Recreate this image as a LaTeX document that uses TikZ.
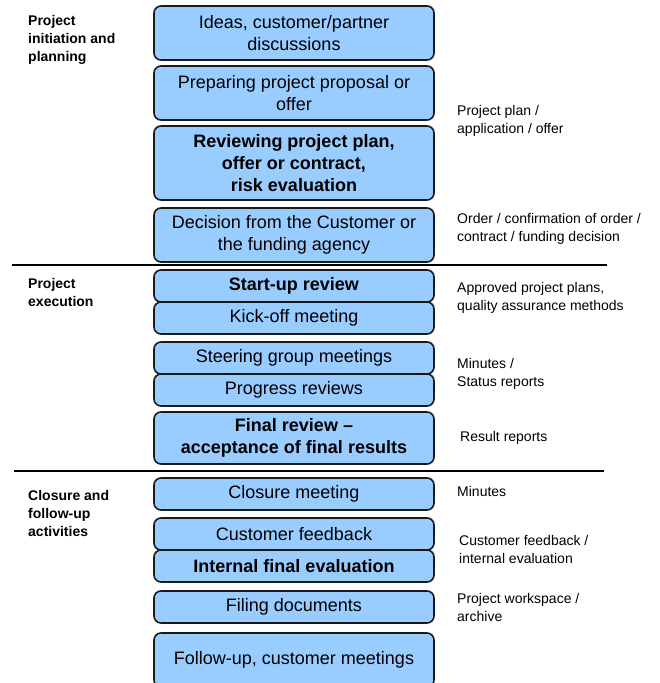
\documentclass[tikz,border=0pt]{standalone}
\usepackage{fontspec}
\setmainfont{Liberation Sans}
\definecolor{boxblue}{HTML}{99CCFF}
\definecolor{boxline}{HTML}{1A1A1A}
\tikzstyle{task}=[shape=rectangle,rounded corners=7pt,draw=boxline,fill=boxblue,line width=1.6pt,minimum width=280pt,align=center,inner sep=0pt,font=\fontsize{18}{22}\selectfont]
\tikzstyle{keytask}=[task,font=\fontsize{18}{22}\selectfont\bfseries]
\tikzstyle{phase}=[anchor=west,align=left,inner sep=0pt,font=\fontsize{14}{18}\selectfont\bfseries]
\tikzstyle{doc}=[anchor=west,align=left,inner sep=0pt,font=\fontsize{14}{18}\selectfont]
\tikzstyle{divider}=[line width=1.5pt]

\begin{document}
\begin{tikzpicture}[x=1pt,y=-1pt]
\useasboundingbox (0,0) rectangle (660,683);
% initiation and planning
\node[phase] (ph1) at (28,40) {Project\\initiation and\\planning};
\node[task,minimum height=54pt] (t1) at (294,33) {Ideas, customer/partner\\discussions};
\node[task,minimum height=54pt] (t2) at (294,93) {Preparing project proposal or\\offer};
\node[keytask,minimum height=74pt] (t3) at (294,163) {Reviewing project plan,\\offer or contract,\\risk evaluation};
\node[task,minimum height=54pt] (t4) at (294,235) {Decision from the Customer or\\the funding agency};
\node[doc] (d1) at (457,121) {Project plan /\\application / offer};
\node[doc] (d2) at (457,229) {Order / confirmation of order /\\contract / funding decision};
\draw[divider] (12,265) -- (607,265);

% execution
\node[phase] (ph2) at (28,292) {Project\\execution};
\node[keytask,minimum height=32pt] (t5) at (294,286) {Start-up review};
\node[task,minimum height=32pt] (t6) at (294,318) {Kick-off meeting};
\node[task,minimum height=32pt] (t7) at (294,358) {Steering group meetings};
\node[task,minimum height=32pt] (t8) at (294,390) {Progress reviews};
\node[keytask,minimum height=52pt] (t9) at (294,438) {Final review --\\acceptance of final results};
\node[doc] (d3) at (457,298) {Approved project plans,\\quality assurance methods};
\node[doc] (d4) at (457,374) {Minutes /\\Status reports};
\node[doc] (d5) at (460,438) {Result reports};
\draw[divider] (14,471) -- (604,471);

% closure and follow-up
\node[phase] (ph3) at (28,513) {Closure and\\follow-up\\activities};
\node[task,minimum height=32pt] (t10) at (294,494) {Closure meeting};
\node[task,minimum height=32pt] (t11) at (294,534) {Customer feedback};
\node[keytask,minimum height=32pt] (t12) at (294,566) {Internal final evaluation};
\node[task,minimum height=32pt] (t13) at (294,607) {Filing documents};
\node[task,minimum height=54pt] (t14) at (294,660) {Follow-up, customer meetings};
\node[doc] (d6) at (457,491) {Minutes};
\node[doc] (d7) at (459,549) {Customer feedback /\\internal evaluation};
\node[doc] (d8) at (457,607) {Project workspace /\\archive};
\end{tikzpicture}
\end{document}
